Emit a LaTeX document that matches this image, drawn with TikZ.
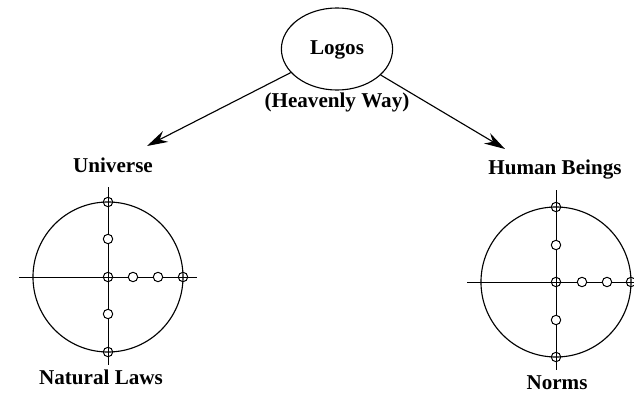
\documentclass[tikz,border=0pt]{standalone}
\usepackage{fontspec}
\setmainfont{Liberation Serif}
\usetikzlibrary{shapes.geometric,arrows.meta}

\tikzset{
  lbl/.style={font=\bfseries\fontsize{15}{18}\selectfont},
  crossdot/.style={circle,draw,line width=0.7pt,inner sep=0pt,minimum size=0.235cm},
  opendot/.style={crossdot,fill=white},
  axis/.style={line width=0.7pt},
  arr/.style={line width=0.8pt,-{Stealth[length=0.52cm,width=0.3cm]}},
}

\begin{document}
\begin{tikzpicture}[x=0.025cm,y=-0.025cm]
  \useasboundingbox (0,0) rectangle (634,401);
  % top
  \node[ellipse,draw,line width=0.8pt,minimum width=2.78cm,minimum height=2.05cm] (logos) at (337,49) {};
  \node[lbl] (logosTxt) at (337,50) {Logos};
  \node[lbl] (way) at (337,102) {(Heavenly Way)};
  \coordinate (uTip) at (147,146);
  \coordinate (hTip) at (505,149);
  \draw[arr] (logos) -- (uTip);
  \draw[arr] (logos) -- (hTip);

  % left: universe
  \node[lbl] (universe) at (113,165) {Universe};
  \draw[line width=0.8pt] (108,277) circle[radius=1.875cm];
  \draw[axis] (19,277) -- (197,277);
  \draw[axis] (108,187) -- (108,365);
  \node[crossdot] (lc) at (108,277) {};
  \node[crossdot] (lu2) at (108,202) {};
  \node[opendot] (lu1) at (108,239) {};
  \node[opendot] (ld1) at (108,314) {};
  \node[crossdot] (ld2) at (108,352) {};
  \node[opendot] (lr1) at (133,277) {};
  \node[opendot] (lr2) at (158,277) {};
  \node[crossdot] (lr3) at (183,277) {};
  \node[lbl] (laws) at (101,377) {Natural Laws};

  % right: human beings
  \node[lbl] (human) at (555,170) {Human Beings};
  \draw[line width=0.8pt] (556,282) circle[radius=1.875cm];
  \draw[axis] (467,282) -- (634,282);
  \draw[axis] (556,190) -- (556,370);
  \node[crossdot] (rc) at (556,282) {};
  \node[crossdot] (ru2) at (556,207) {};
  \node[opendot] (ru1) at (556,245) {};
  \node[opendot] (rd1) at (556,320) {};
  \node[crossdot] (rd2) at (556,357) {};
  \node[opendot] (rr1) at (582,282) {};
  \node[opendot] (rr2) at (607,282) {};
  \node[crossdot] (rr3) at (631,282) {};
  \node[lbl] (norms) at (557,383) {Norms};
\end{tikzpicture}
\end{document}
